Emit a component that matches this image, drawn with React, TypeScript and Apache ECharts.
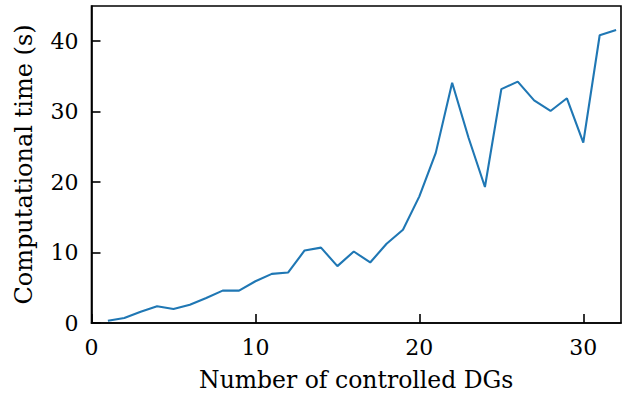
import React, { useEffect, useRef } from "react";
import * as echarts from "echarts";

const dgCounts = [1,2,3,4,5,6,7,8,9,10,11,12,13,14,15,16,17,18,19,20,21,22,23,24,25,26,27,28,29,30,31,32];
const compTimes = [0.33,0.71,1.6,2.37,1.99,2.6,3.56,4.6,4.6,5.93,6.97,7.17,10.3,10.7,8.07,10.15,8.59,11.25,13.24,17.98,24.15,34.1,26.3,19.3,33.2,34.26,31.6,30.1,31.9,25.6,40.85,41.6];
const xTicks = [0, 10, 20, 30];
const yTicks = [0, 10, 20, 30, 40];

const FONT = "'DejaVu Serif', serif";

export default function App() {
  const ref = useRef<HTMLDivElement>(null);
  useEffect(() => {
    const chart = echarts.init(ref.current!, null, { renderer: "svg" });
    chart.setOption({
      animation: false,
      backgroundColor: "#ffffff",
      grid: { left: 91.5, right: 2, top: 6, bottom: 75, show: true, borderColor: "#000", borderWidth: 1.6, backgroundColor: "transparent" },
      xAxis: {
        type: "value",
        min: 0,
        max: 32.3,
        name: "Number of controlled DGs",
        nameLocation: "middle",
        nameGap: 45,
        nameTextStyle: { fontFamily: FONT, fontSize: 23.5, color: "#000" },
        splitLine: { show: false },
        axisLine: { show: true, lineStyle: { color: "#000", width: 1.6 } },
        axisTick: { show: true, inside: true, length: 9, lineStyle: { color: "#000", width: 1.6 }, customValues: xTicks },
        axisLabel: { fontFamily: FONT, fontSize: 22, color: "#000", margin: 13, customValues: xTicks },
      },
      yAxis: {
        type: "value",
        min: 0,
        max: 45,
        name: "Computational time (s)",
        nameLocation: "middle",
        nameGap: 56,
        nameTextStyle: { fontFamily: FONT, fontSize: 24, color: "#000" },
        splitLine: { show: false },
        axisLine: { show: true, lineStyle: { color: "#000", width: 1.6 } },
        axisTick: { show: true, inside: true, length: 9, lineStyle: { color: "#000", width: 1.6 }, customValues: yTicks },
        axisLabel: { fontFamily: FONT, fontSize: 22, color: "#000", margin: 13, customValues: yTicks },
      },
      series: [
        {
          type: "line",
          data: dgCounts.map((d, i) => [d, compTimes[i]]),
          showSymbol: false,
          symbol: "none",
          lineStyle: { color: "#1f77b4", width: 2.1 },
        },
      ],
    });
    return () => chart.dispose();
  }, []);
  return <div ref={ref} style={{ position: "absolute", left: 0, top: 0, width: 623, height: 398 }} />;
}
